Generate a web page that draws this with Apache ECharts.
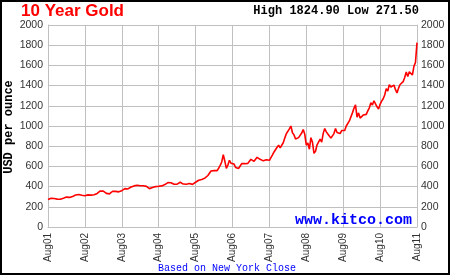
<!DOCTYPE html>
<html>
<head>
<meta charset="utf-8">
<script src="https://cdn.jsdelivr.net/npm/echarts@6/dist/echarts.min.js"></script>
<style>
  html, body { margin: 0; padding: 0; background: #fff; }
  #main { width: 450px; height: 275px; }
</style>
</head>
<body>
<div id="main"></div>
<script>
// gold price, two readings per month starting Aug 2001 (x = months since Aug01)
var prices = [
  272, 276, 285, 292, 282, 279, 276, 274, 275, 278,               // Aug01 - Dec01
  285, 282, 296, 296, 293, 302, 303, 308, 316, 326, 322, 318,     // Jan02 - Jun02
  315, 305, 310, 312, 318, 323, 316, 317, 320, 318, 332, 347,     // Jul02 - Dec02
  357, 368, 355, 348, 333, 335, 328, 338, 354, 361, 353, 346,     // Jan03 - Jun03
  348, 354, 360, 375, 380, 385, 377, 386, 396, 398, 407, 416,     // Jul03 - Dec03
  413, 400, 408, 396, 408, 426, 402, 388, 380, 393, 390, 395,     // Jan04 - Jun04
  400, 391, 403, 408, 407, 415, 420, 428, 440, 453, 438, 438,     // Jul04 - Dec04
  423, 422, 424, 435, 443, 428, 425, 435, 423, 417, 430, 437,     // Jan05 - Jun05
  422, 429, 443, 433, 463, 473, 470, 470, 484, 495, 510, 513,     // Jul05 - Dec05
  555, 569, 558, 556, 558, 582, 610, 644, 715, 653, 580, 613,     // Jan06 - Jun06
  660, 632, 622, 623, 590, 599, 580, 604, 628, 646, 627, 632,     // Jul06 - Dec06
  630, 650, 670, 665, 650, 662, 690, 679, 670, 659, 655, 650,     // Jan07 - Jun07
  666, 665, 660, 673, 714, 743, 760, 789, 810, 783, 800, 834,     // Jul07 - Dec07
  880, 923, 920, 971, 1000, 933, 912, 871, 880, 885, 880, 930,    // Jan08 - Jun08
  965, 918, 810, 833, 770, 884, 840, 730, 750, 814, 830, 869,     // Jul08 - Dec08
  840, 927, 975, 942, 920, 916, 880, 883, 925, 975, 935, 934,     // Jan09 - Jun09
  925, 955, 945, 955, 1000, 1000, 1050, 1040, 1130, 1175, 1210, 1087, // Jul09 - Dec09
  1130, 1078, 1090, 1108, 1120, 1115, 1150, 1180, 1230, 1207, 1250, 1244, // Jan10 - Jun10
  1190, 1169, 1215, 1246, 1270, 1307, 1370, 1346, 1410, 1386, 1380, 1405, // Jul10 - Dec10
  1360, 1327, 1375, 1411, 1420, 1439, 1480, 1535, 1490, 1536, 1530, 1505, // Jan11 - Jun11
  1590, 1628, 1825                                                // Jul11 - Aug11
];
var yearLabels = ['Aug01', 'Aug02', 'Aug03', 'Aug04', 'Aug05', 'Aug06',
                  'Aug07', 'Aug08', 'Aug09', 'Aug10', 'Aug11'];

var points = prices.map(function (p, i) { return [i / 2, p]; });

var myChart = echarts.init(document.getElementById('main'));

var axisText = {
  color: '#333', fontFamily: 'Liberation Sans', fontSize: 10.5,
  formatter: function (v) { return String(v); }
};
var gridLine = { show: true, lineStyle: { color: '#c0c0c0', width: 1 } };

var option = {
  backgroundColor: '#fff',
  animation: false,
  grid: { left: 48, right: 33, top: 25, bottom: 48 },
  xAxis: {
    type: 'value',
    min: 0,
    max: 120,
    interval: 12,
    axisLine: { show: true, lineStyle: { color: '#c0c0c0' } },
    axisTick: { show: false },
    splitLine: gridLine,
    axisLabel: {
      color: '#333', fontFamily: 'Liberation Sans', fontSize: 10,
      rotate: 90, margin: 6,
      formatter: function (v) { return yearLabels[Math.round(v / 12)]; }
    }
  },
  yAxis: [{
    type: 'value',
    min: 0, max: 2000, interval: 200,
    axisLine: { show: true, lineStyle: { color: '#c0c0c0' } },
    axisTick: { show: false },
    splitLine: gridLine,
    axisLabel: Object.assign({ margin: 5 }, axisText)
  }, {
    type: 'value',
    position: 'right',
    min: 0, max: 2000, interval: 200,
    axisLine: { show: true, lineStyle: { color: '#c0c0c0' } },
    axisTick: { show: false },
    splitLine: { show: false },
    axisLabel: Object.assign({ margin: 4 }, axisText)
  }],
  series: [{
    type: 'line',
    data: points,
    showSymbol: false,
    lineStyle: { color: '#ff0000', width: 1.6 },
    z: 3
  }],
  graphic: [
    { type: 'rect', shape: { x: 1, y: 1, width: 448, height: 273 },
      style: { fill: 'none', stroke: '#000', lineWidth: 2 } },
    { type: 'text', left: 21, top: 3,
      style: { text: '10 Year Gold', fill: '#ff0000', font: 'bold 17px "Liberation Sans"' } },
    { type: 'text', right: 31, top: 5,
      style: { text: 'High 1824.90 Low 271.50', fill: '#000', font: 'bold 12px "Liberation Mono"' } },
    { type: 'text', left: 295, top: 213, z: 10,
      style: { text: 'www.kitco.com', fill: '#0000ff', font: 'bold 15px "Liberation Mono"' } },
    { type: 'text', left: 158, top: 263,
      style: { text: 'Based on New York Close', fill: '#0000ff', font: '10px "Liberation Mono"' } },
    { type: 'text', x: 9, y: 127, rotation: Math.PI / 2,
      style: { text: 'USD per ounce', fill: '#000', font: 'bold 12px "Liberation Mono"',
               align: 'center', verticalAlign: 'middle' } }
  ]
};

myChart.setOption(option);
</script>
</body>
</html>
